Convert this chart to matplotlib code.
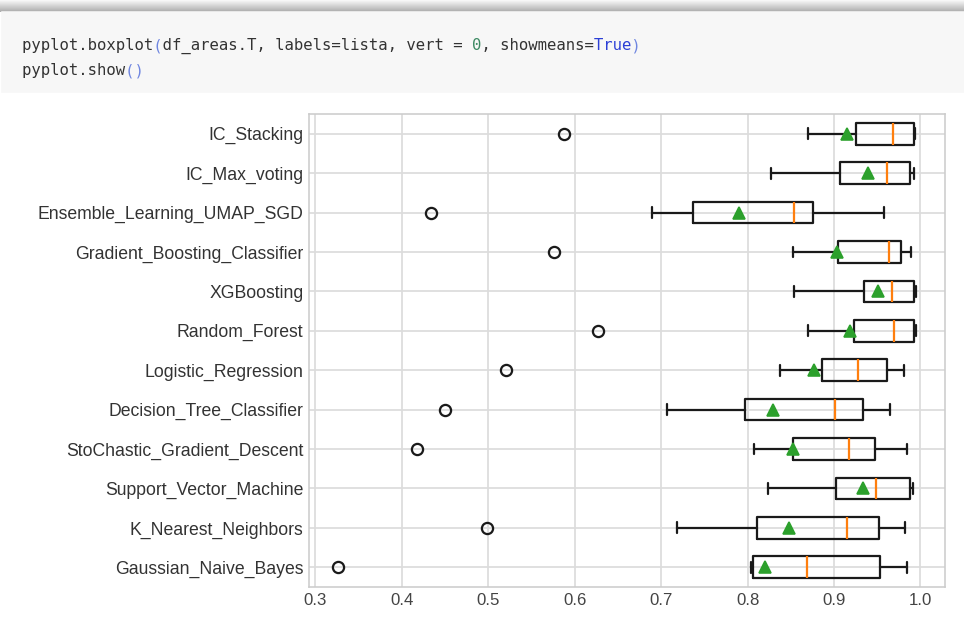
import matplotlib
matplotlib.use("Agg")
import matplotlib.pyplot as plt
import numpy as np

# ── data (bottom row first, as boxplot orders them) ───
models = [
    "Gaussian_Naive_Bayes", "K_Nearest_Neighbors", "Support_Vector_Machine",
    "StoChastic_Gradient_Descent", "Decision_Tree_Classifier",
    "Logistic_Regression", "Random_Forest", "XGBoosting",
    "Gradient_Boosting_Classifier", "Ensemble_Learning_UMAP_SGD",
    "IC_Max_voting", "IC_Stacking",
]
whislo = [0.804, 0.718, 0.824, 0.807, 0.707, 0.837, 0.870, 0.8535, 0.852, 0.6895, 0.827, 0.870]
q1     = [0.806, 0.811, 0.902, 0.852, 0.797, 0.886, 0.923, 0.935, 0.905, 0.737, 0.907, 0.925]
med    = [0.869, 0.9145, 0.9487, 0.917, 0.901, 0.928, 0.969, 0.9666, 0.964, 0.8535, 0.961, 0.968]
q3     = [0.953, 0.952, 0.9876, 0.948, 0.934, 0.961, 0.993, 0.993, 0.9775, 0.8757, 0.988, 0.993]
whishi = [0.985, 0.982, 0.992, 0.985, 0.965, 0.981, 0.995, 0.995, 0.989, 0.958, 0.993, 0.994]
means  = [0.8205, 0.848, 0.934, 0.852, 0.829, 0.877, 0.918, 0.9515, 0.904, 0.7905, 0.939, 0.915]
fliers = [[0.326], [0.498], [], [0.417], [0.450], [0.5205], [0.627], [],
          [0.576], [0.434], [], [0.588]]

code_line1 = "pyplot.boxplot(df_areas.T, labels=lista, vert = 0, showmeans=True)"
code_line2 = "pyplot.show()"

W, H, DPI = 964, 632, 115

plt.style.use("seaborn-v0_8-whitegrid")
plt.rcParams["font.family"] = ["Liberation Sans", "DejaVu Sans"]

fig = plt.figure(figsize=(W / DPI, H / DPI), dpi=DPI)

# ── notebook cell decoration ─────────────────────────────────────────────────
shadow = fig.add_axes([0, 1 - 12 / H, 1, 12 / H])
shadow.imshow(np.linspace(0.97, 0.68, 12)[:, None] * np.ones((1, 10)),
              cmap="gray", vmin=0, vmax=1, aspect="auto", interpolation="bilinear")
shadow.set_axis_off()

fig.patches.append(plt.Rectangle((2 / W, 1 - 92 / H), 1, 80 / H,
                                 transform=fig.transFigure, color="#f7f7f7", zorder=0))


def layered(line, keep):
    """Keep only chars whose index is in keep, blank out the rest."""
    return "".join(c if i in keep else " " for i, c in enumerate(line))


def draw_code(line, y, colours):
    # colours: dict char-index -> colour ; the rest in dark grey
    groups = {}
    for i in range(len(line)):
        groups.setdefault(colours.get(i, "#333333"), set()).add(i)
    for col, idx in groups.items():
        fig.text(22 / W, 1 - y / H, layered(line, idx), family="DejaVu Sans Mono",
                 fontsize=9.8, color=col, va="center", ha="left")


PAREN = "#6f86e0"
c1 = {}
c1[code_line1.index("(")] = PAREN
c1[code_line1.rindex(")")] = PAREN
zero = code_line1.index("0")
c1[zero] = "#3d8a63"
t = code_line1.index("True")
for k in range(4):
    c1[t + k] = "#2b3fd6"
draw_code(code_line1, 46, c1)

c2 = {code_line2.index("("): PAREN, code_line2.index(")"): PAREN}
draw_code(code_line2, 71, c2)

# ── the boxplot ──────────────────────────────────────────────────────────────
ax = fig.add_axes([309 / W, 1 - 587 / H, (945 - 309) / W, (587 - 114) / H])

stats = []
for i, name in enumerate(models):
    stats.append(dict(label=name, whislo=whislo[i], q1=q1[i], med=med[i],
                      q3=q3[i], whishi=whishi[i], mean=means[i],
                      fliers=np.array(fliers[i])))

LW = 1.4
ax.bxp(stats, orientation="horizontal", showmeans=True, widths=0.55,
       boxprops=dict(color="#1a1a1a", lw=LW),
       whiskerprops=dict(color="#1a1a1a", lw=LW),
       capprops=dict(color="#1a1a1a", lw=LW),
       medianprops=dict(color="#ff7f0e", lw=LW),
       meanprops=dict(marker="^", markerfacecolor="#2ca02c",
                      markeredgecolor="#2ca02c", markersize=7.5),
       flierprops=dict(marker="o", markerfacecolor="none",
                       markeredgecolor="#1a1a1a", markersize=7, markeredgewidth=1.4))

ax.set_xticks([0.3, 0.4, 0.5, 0.6, 0.7, 0.8, 0.9, 1.0])
ax.tick_params(axis="y", labelsize=11, colors="#333333")
ax.tick_params(axis="x", labelsize=10.5, colors="#444444")
ax.grid(True, color="#dcdcdc", lw=1.1)
for s in ax.spines.values():
    s.set_color("#cccccc")

fig.savefig("out.png", dpi=DPI)
